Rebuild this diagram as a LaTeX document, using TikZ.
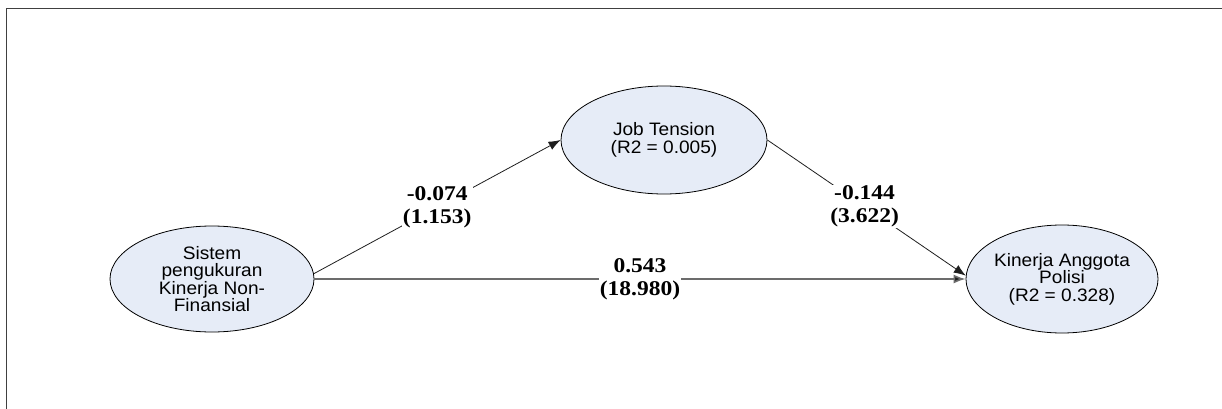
\documentclass[tikz,border=0pt]{standalone}
\usepackage{fontspec}
\usetikzlibrary{shapes.geometric,arrows.meta}
\newfontfamily\nodefont[FakeStretch=1.06]{Liberation Sans}
\newfontfamily\labfont[FakeStretch=1.12]{Liberation Serif}
\definecolor{ellfill}{RGB}{230,236,247}
\definecolor{framegray}{RGB}{64,64,64}
\definecolor{arrowgray}{RGB}{30,30,30}
\tikzset{
  latent/.style={ellipse, draw=black, line width=0.8pt, fill=ellfill, inner sep=0pt,
    align=center, font=\nodefont\fontsize{18}{17.5}\selectfont},
  pathlab/.style={fill=white, inner sep=1pt, align=center,
    font=\labfont\bfseries\fontsize{21}{23}\selectfont},
  diagarrow/.style={draw=arrowgray, line width=0.8pt, -{Latex[length=12pt,width=9pt]}},
  horarrow/.style={draw=gray!85!black, line width=1.6pt, -{Latex[length=12pt,width=9pt,fill=arrowgray]}},
}
\begin{document}
\begin{tikzpicture}[x=1pt,y=-1pt]
\useasboundingbox (0,0) rectangle (1222,409);
\draw[framegray, line width=1.5pt] (6.5,409) -- (6.5,8.5) -- (1222,8.5);
\node[latent, minimum width=204pt, minimum height=106pt] (s) at (212,279)
  {Sistem\\pengukuran\\Kinerja Non-\\Finansial};
\node[latent, minimum width=206pt, minimum height=108pt] (j) at (664,140)
  {Job Tension\\(R2 = 0.005)};
\node[latent, minimum width=184pt, minimum height=108pt] (k) at (1062,279)
  {Kinerja Anggota\\Polisi\\(R2 = 0.328)};
\draw[diagarrow] (s.3) -- node[pathlab, pos=0.5] (l1) {-0.074\\(1.153)} (j.west);
\draw[diagarrow] (j.east) -- node[pathlab, pos=0.49] (l2) {-0.144\\(3.622)} (k.178);
\draw[horarrow] (s.east) -- node[pathlab, pos=0.5] (l3) {0.543\\(18.980)} (k.west);
\end{tikzpicture}
\end{document}
